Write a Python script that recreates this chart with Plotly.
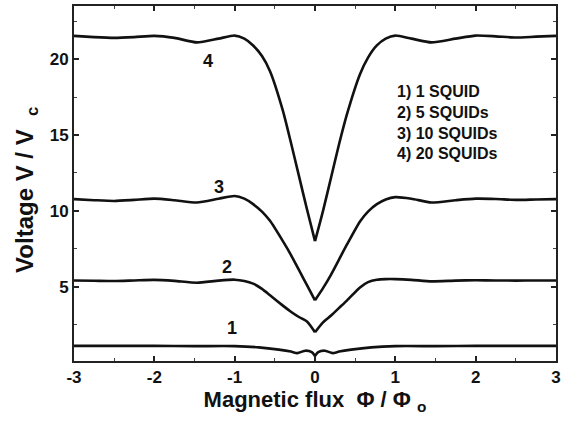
import plotly.graph_objects as go

# ---- data ----
flux = [-3, -2.75, -2.5, -2.25, -2, -1.75, -1.47, -1.2, -1.0, -0.88, -0.77, -0.66, -0.56,
        -0.4, -0.3, -0.2, -0.1, 0, 0.1, 0.2, 0.3, 0.4, 0.56, 0.66, 0.77, 0.88, 1.0, 1.2,
        1.45, 1.75, 2.0, 2.25, 2.5, 2.75, 3]
v_20 = [21.53, 21.45, 21.4, 21.45, 21.53, 21.4, 21.1, 21.35, 21.55, 21.35, 20.9, 20.2, 19.2,
        16.6, 14.5, 12.3, 10.1, 8.0, 10.0, 12.2, 14.4, 16.4, 19.0, 20.1, 20.9, 21.35, 21.55, 21.35,
        21.1, 21.35, 21.55, 21.5, 21.42, 21.48, 21.53]
v_10 = [10.77, 10.7, 10.65, 10.72, 10.8, 10.7, 10.55, 10.8, 10.98, 10.8, 10.44, 9.95, 9.34,
        8.0, 7.1, 6.1, 5.1, 4.1, 4.9, 5.8, 6.8, 7.8, 9.3, 9.95, 10.44, 10.75, 10.9, 10.8,
        10.55, 10.7, 10.8, 10.78, 10.72, 10.75, 10.77]
v_5 = [5.41, 5.39, 5.37, 5.41, 5.45, 5.38, 5.26, 5.4, 5.46, 5.38, 5.2, 4.85, 4.43,
       3.75, 3.35, 3.0, 2.7, 2.0, 2.65, 3.1, 3.6, 4.1, 4.95, 5.3, 5.46, 5.5, 5.5, 5.45,
       5.35, 5.4, 5.42, 5.41, 5.4, 5.41, 5.41]
flux_1 = [-3, -2, -1.5, -1, -0.7, -0.45, -0.3, -0.22, -0.12, -0.04, 0, 0.04, 0.12, 0.22,
          0.3, 0.45, 0.7, 1, 1.5, 2, 3]
v_1 = [1.1, 1.1, 1.08, 1.08, 1.0, 0.85, 0.72, 0.62, 0.78, 0.68, 0.43, 0.68, 0.78, 0.62,
       0.72, 0.85, 1.0, 1.08, 1.08, 1.1, 1.1]

curve_labels = ["1", "2", "3", "4"]
curve_label_x = [-1.03, -1.1, -1.19, -1.33]
curve_label_y = [2.3, 6.3, 11.6, 19.85]

legend_lines = ["1) 1 SQUID", "2) 5 SQUIDs", "3) 10 SQUIDs", "4) 20 SQUIDs"]
legend_y = [17.86, 16.5, 15.12, 13.75]
legend_x = 1.0

x_ticks = [-3, -2, -1, 0, 1, 2, 3]
x_tick_text = ["-3", "-2", "-1", "0", "1", "2", "3"]
y_ticks = [5, 10, 15, 20]

x_title = "Magnetic flux  \u03a6 / \u03a6 <sub>o</sub>"
y_title = "Voltage V / V  <sub>c</sub>"

fig = go.Figure()
line_style = dict(color="#111111", width=2.6, shape="spline", smoothing=0.6)
for xs, ys in [(flux_1, v_1), (flux, v_5), (flux, v_10), (flux, v_20)]:
    # each curve has a cusp at zero flux: draw the two branches so the cusp stays sharp
    left = [(x, y) for x, y in zip(xs, ys) if x <= 0]
    right = [(x, y) for x, y in zip(xs, ys) if x >= 0]
    for part in (left, right):
        fig.add_trace(go.Scatter(x=[p[0] for p in part], y=[p[1] for p in part], mode="lines",
                                 line=line_style, showlegend=False, hoverinfo="skip"))

bold = dict(family="Liberation Sans, Arial, sans-serif", color="#111111", weight="bold")

for t, x, y in zip(curve_labels, curve_label_x, curve_label_y):
    fig.add_annotation(x=x, y=y, text=t, showarrow=False, font=dict(size=18, **bold))

for t, y in zip(legend_lines, legend_y):
    fig.add_annotation(x=legend_x, y=y, text=t, showarrow=False, xanchor="left",
                       yanchor="middle", font=dict(size=16, **bold))

# y-axis title as a rotated annotation for exact placement
fig.add_annotation(xref="paper", yref="paper", x=0, y=0.482, xshift=-47, text=y_title,
                   textangle=-90, showarrow=False, xanchor="center", yanchor="middle",
                   font=dict(size=24, **bold))

axis_common = dict(showline=True, linecolor="#222222", linewidth=2, mirror="allticks",
                   ticks="inside", ticklen=5, tickwidth=1.5, tickcolor="#222222",
                   showgrid=False, zeroline=False, tickfont=dict(size=17, **bold))

fig.update_xaxes(range=[-3, 3], tickvals=x_ticks, ticktext=x_tick_text,
                 minor=dict(ticks="inside", ticklen=3, tickwidth=1.2, tickcolor="#444444", dtick=0.5),
                 title=dict(text=x_title, font=dict(size=22, **bold), standoff=4),
                 **axis_common)
fig.update_yaxes(range=[0.1, 23.5], tickvals=y_ticks,
                 minor=dict(ticks="inside", ticklen=3, tickwidth=1.2, tickcolor="#444444", dtick=2.5),
                 **axis_common)

fig.update_layout(width=568, height=424, margin=dict(l=74, r=12, t=4, b=63),
                  plot_bgcolor="white", paper_bgcolor="white")

fig.write_html("out.html")
